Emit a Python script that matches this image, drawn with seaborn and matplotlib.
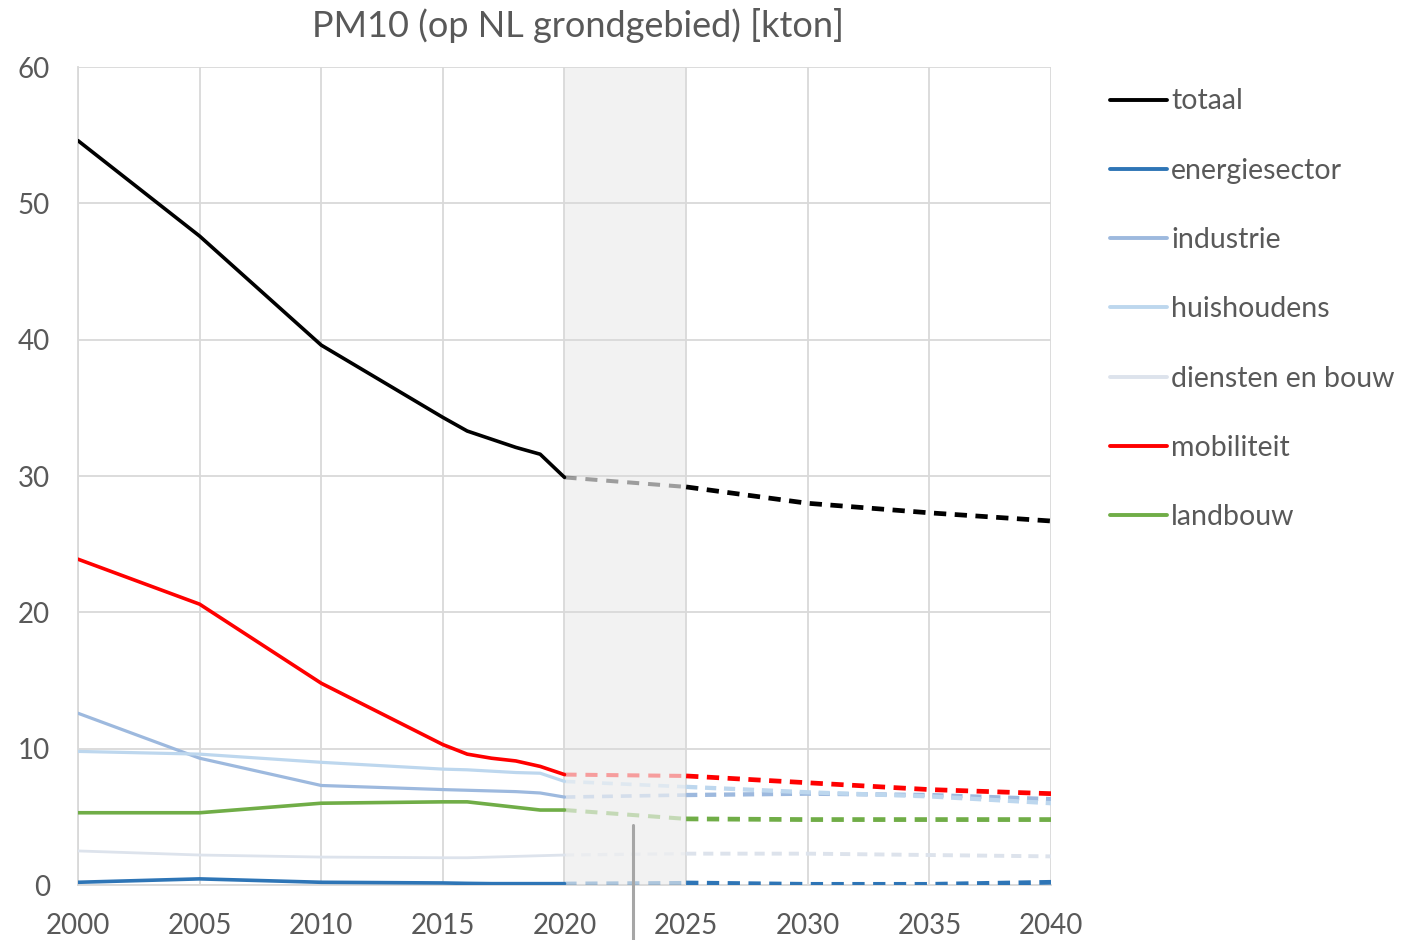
import matplotlib
matplotlib.use("Agg")
import matplotlib.pyplot as plt
import seaborn as sns
import pandas as pd
from matplotlib.lines import Line2D

# ---- data ----
hist_years = [2000, 2005, 2010, 2015, 2016, 2017, 2018, 2019, 2020]
proj_years = [2020, 2025, 2030, 2035, 2040]

series = ["totaal", "energiesector", "industrie", "huishoudens",
          "diensten en bouw", "mobiliteit", "landbouw"]

totaal_hist = [54.6, 47.6, 39.6, 34.3, 33.3, 32.7, 32.1, 31.6, 29.9]
energie_hist = [0.2, 0.45, 0.2, 0.15, 0.12, 0.1, 0.1, 0.1, 0.1]
industrie_hist = [12.6, 9.3, 7.3, 7.0, 6.95, 6.9, 6.85, 6.75, 6.45]
huish_hist = [9.8, 9.6, 9.0, 8.5, 8.45, 8.35, 8.25, 8.2, 7.6]
diensten_hist = [2.5, 2.2, 2.05, 2.0, 2.0, 2.05, 2.1, 2.15, 2.2]
mobiliteit_hist = [23.9, 20.6, 14.8, 10.3, 9.6, 9.3, 9.1, 8.7, 8.1]
landbouw_hist = [5.3, 5.3, 6.0, 6.1, 6.1, 5.9, 5.7, 5.5, 5.5]

totaal_proj = [29.9, 29.2, 28.0, 27.3, 26.7]
energie_proj = [0.1, 0.15, 0.05, 0.05, 0.2]
industrie_proj = [6.45, 6.6, 6.7, 6.6, 6.3]
huish_proj = [7.6, 7.2, 6.8, 6.5, 6.0]
diensten_proj = [2.2, 2.3, 2.3, 2.2, 2.1]
mobiliteit_proj = [8.1, 8.0, 7.5, 7.0, 6.7]
landbouw_proj = [5.5, 4.85, 4.8, 4.8, 4.8]

x_ticks = [2000, 2005, 2010, 2015, 2020, 2025, 2030, 2035, 2040]
y_ticks = [0, 10, 20, 30, 40, 50, 60]
marker_year = 2022.8
title = "PM10 (op NL grondgebied) [kton]"

hist = [totaal_hist, energie_hist, industrie_hist, huish_hist,
        diensten_hist, mobiliteit_hist, landbouw_hist]
proj = [totaal_proj, energie_proj, industrie_proj, huish_proj,
        diensten_proj, mobiliteit_proj, landbouw_proj]

colors = {
    "totaal": "#000000",
    "energiesector": "#2E75B6",
    "industrie": "#9DB9DE",
    "huishoudens": "#BDD7EE",
    "diensten en bouw": "#DDE3EC",
    "mobiliteit": "#FF0000",
    "landbouw": "#70AD47",
}
widths = {"totaal": 2.6, "energiesector": 2.6, "industrie": 2.3,
          "huishoudens": 2.3, "diensten en bouw": 2.0,
          "mobiliteit": 2.6, "landbouw": 2.6}

# ---- plot ----
sns.set_theme(style="white")
plt.rcParams["font.family"] = ["Lato", "DejaVu Sans"]
text_col = "#595959"

fig = plt.figure(figsize=(14.1, 9.4), dpi=100)
ax = fig.add_axes([0.0553, 0.0585, 0.6901, 0.8702])

ax.axvspan(2020, 2025, color="#F2F2F2", zorder=0, lw=0)

for name, h, p in zip(series, hist, proj):
    c = colors[name]
    lw = widths[name]
    dfh = pd.DataFrame({"jaar": hist_years, "waarde": h})
    sns.lineplot(data=dfh, x="jaar", y="waarde", ax=ax, color=c, lw=lw,
                 zorder=3)
    dft = pd.DataFrame({"jaar": proj_years[:2], "waarde": p[:2]})
    sns.lineplot(data=dft, x="jaar", y="waarde", ax=ax, color=c,
                 lw=lw + 0.3, alpha=0.35, linestyle=(0, (3, 2.2)), zorder=3)
    dfp = pd.DataFrame({"jaar": proj_years[1:], "waarde": p[1:]})
    sns.lineplot(data=dfp, x="jaar", y="waarde", ax=ax, color=c,
                 lw=lw + 0.8, linestyle=(0, (2.6, 1.8)), zorder=3)

# marker line
ax.plot([marker_year, marker_year], [4.4, -4.5], color="#A6A6A6", lw=2.2,
        clip_on=False, zorder=4)

ax.set_xlim(2000, 2040)
ax.set_ylim(0, 60)
ax.set_xticks(x_ticks)
ax.set_yticks(y_ticks)
ax.grid(True, color="#D9D9D9", lw=1.3)
ax.set_axisbelow(True)
for s in ["top", "right"]:
    ax.spines[s].set_visible(False)
for s in ["left", "bottom"]:
    ax.spines[s].set_color("#D9D9D9")
    ax.spines[s].set_linewidth(1.3)
ax.set_xlabel("")
ax.set_ylabel("")
ax.tick_params(axis="both", labelsize=20, colors=text_col, length=0)
ax.tick_params(axis="x", pad=20)
ax.tick_params(axis="y", pad=20)

fig.text(0.41, 0.973, title, ha="center", va="center", fontsize=26,
         color=text_col)

handles = [Line2D([0], [0], color=colors[n], lw=2.8) for n in series]
leg = fig.legend(handles, series, loc="upper left",
                 bbox_to_anchor=(0.779, 0.918), frameon=False,
                 fontsize=20.5, handlelength=2.0, handletextpad=0.15,
                 labelspacing=1.52, borderaxespad=0)
for t in leg.get_texts():
    t.set_color(text_col)

fig.savefig("out.png", dpi=100)
